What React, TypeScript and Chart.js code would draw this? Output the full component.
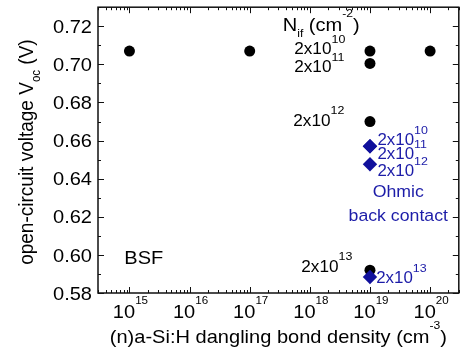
import React, { useEffect, useRef } from "react";
import { Chart, registerables } from "chart.js";
Chart.register(...registerables);

// ---- data ----
const bsfDensity = [1e15, 1e17, 1e19, 1e19, 1e19, 1e19, 1e20];
const bsfVoc = [0.707, 0.707, 0.707, 0.7005, 0.67, 0.592, 0.707];
const ohmicDensity = [1e19, 1e19, 1e19, 1e19];
const ohmicVoc = [0.657, 0.657, 0.6476, 0.5884];
const yTickValues = [0.58, 0.6, 0.62, 0.64, 0.66, 0.68, 0.7, 0.72];
const yTickLabels = ["0.58", "0.60", "0.62", "0.64", "0.66", "0.68", "0.70", "0.72"];
const xTickExponents = [15, 16, 17, 18, 19, 20];
const xMin = 3e14;
const xMax = 3e20;
const yMin = 0.58;
const yMax = 0.73;

type Part = [string, "n" | "sup" | "sub"];
type Note = { parts: Part[]; x: number; y: number; color: string; align: "left" | "center"; size: number; ssize: number };

const BLACK = "#000000";
const BLUE = "#1c1ca8";

const notes: Note[] = [
  { parts: [["N", "n"], ["if", "sub"], [" (cm", "n"], ["-2", "sup"], [")", "n"]], x: 3.54e17, y: 0.7177, color: BLACK, align: "left", size: 19, ssize: 11.5 },
  { parts: [["2x10", "n"], ["10", "sup"]], x: 5.5e17, y: 0.7052, color: BLACK, align: "left", size: 16.3, ssize: 11.8 },
  { parts: [["2x10", "n"], ["11", "sup"]], x: 5.5e17, y: 0.6958, color: BLACK, align: "left", size: 16.3, ssize: 11.8 },
  { parts: [["2x10", "n"], ["12", "sup"]], x: 5.3e17, y: 0.6677, color: BLACK, align: "left", size: 16.3, ssize: 11.8 },
  { parts: [["2x10", "n"], ["13", "sup"]], x: 7.2e17, y: 0.5910, color: BLACK, align: "left", size: 16.3, ssize: 11.8 },
  { parts: [["BSF", "n"]], x: 8.2e14, y: 0.5950, color: BLACK, align: "left", size: 19, ssize: 12 },
  { parts: [["2x10", "n"], ["10", "sup"]], x: 1.33e19, y: 0.6575, color: BLUE, align: "left", size: 16, ssize: 11.8 },
  { parts: [["2x10", "n"], ["11", "sup"]], x: 1.33e19, y: 0.6503, color: BLUE, align: "left", size: 16, ssize: 11.8 },
  { parts: [["2x10", "n"], ["12", "sup"]], x: 1.33e19, y: 0.6413, color: BLUE, align: "left", size: 16, ssize: 11.8 },
  { parts: [["Ohmic", "n"]], x: 2.95e19, y: 0.6305, color: BLUE, align: "center", size: 16.8, ssize: 11 },
  { parts: [["back contact", "n"]], x: 2.95e19, y: 0.6178, color: BLUE, align: "center", size: 16.8, ssize: 11 },
  { parts: [["2x10", "n"], ["13", "sup"]], x: 1.27e19, y: 0.5850, color: BLUE, align: "left", size: 16, ssize: 11.8 },
];

const FONT = "'Liberation Sans', Arial, sans-serif";
const SX = 1.055;

function drawRich(
  ctx: CanvasRenderingContext2D,
  parts: Part[],
  x: number,
  y: number,
  align: "left" | "center" | "right",
  color: string,
  size: number,
  ssize: number,
  sx: number,
  sy: number
) {
  ctx.save();
  ctx.translate(x, y);
  ctx.scale(sx, sy);
  let w = 0;
  for (const [t, k] of parts) {
    ctx.font = `${k === "n" ? size : ssize}px ${FONT}`;
    w += ctx.measureText(t).width;
  }
  let cx = align === "left" ? 0 : align === "center" ? -w / 2 : -w;
  ctx.fillStyle = color;
  ctx.textAlign = "left";
  ctx.textBaseline = "alphabetic";
  for (const [t, k] of parts) {
    ctx.font = `${k === "n" ? size : ssize}px ${FONT}`;
    const dy = k === "sup" ? -0.72 * size : k === "sub" ? 0.36 * size : 0;
    ctx.fillText(t, cx, dy);
    cx += ctx.measureText(t).width;
  }
  ctx.restore();
}

const framePlugin = {
  id: "frameTicks",
  beforeDatasetsDraw(chart: any) {
    const { ctx, chartArea: a, scales } = chart;
    const xs = scales.x;
    const ys = scales.y;
    ctx.save();
    ctx.strokeStyle = "#111";
    ctx.lineWidth = 1.5;
    ctx.strokeRect(a.left, a.top, a.right - a.left, a.bottom - a.top);
    ctx.lineWidth = 1;
    ctx.beginPath();
    for (let i = 0; i <= 15; i++) {
      const v = yMin + i * 0.01;
      const py = Math.round(ys.getPixelForValue(v)) + 0.5;
      const len = i % 2 === 0 ? 6 : 3;
      ctx.moveTo(a.left, py);
      ctx.lineTo(a.left + len, py);
      ctx.moveTo(a.right, py);
      ctx.lineTo(a.right - len, py);
    }
    for (let e = 14; e <= 20; e++) {
      for (let m = 1; m <= 9; m++) {
        const v = m * Math.pow(10, e);
        if (v < xMin || v > xMax) continue;
        const px = Math.round(xs.getPixelForValue(v)) + 0.5;
        const len = m === 1 ? 6 : 3;
        ctx.moveTo(px, a.bottom);
        ctx.lineTo(px, a.bottom - len);
        ctx.moveTo(px, a.top);
        ctx.lineTo(px, a.top + len);
      }
    }
    ctx.stroke();
    ctx.restore();
  },
  afterDraw(chart: any) {
    const { ctx, chartArea: a, scales } = chart;
    const xs = scales.x;
    const ys = scales.y;
    ctx.save();
    yTickValues.forEach((v, i) => {
      drawRich(ctx, [[yTickLabels[i], "n"]], a.left - 6, ys.getPixelForValue(v) + 6.7, "right", BLACK, 19, 11, SX, 1);
    });
    xTickExponents.forEach((e) => {
      const px = xs.getPixelForValue(Math.pow(10, e));
      drawRich(ctx, [["10", "n"], [String(e), "sup"]], px + 1, a.bottom + 25, "center", BLACK, 19, 11, SX, 1);
    });
    drawRich(
      ctx,
      [["(n)a-Si:H dangling bond density (cm", "n"], ["-3", "sup"], [")", "n"]],
      (a.left + a.right) / 2,
      a.bottom + 50,
      "center",
      BLACK,
      19,
      11.5,
      SX,
      1
    );
    ctx.save();
    ctx.translate(33, (a.top + a.bottom) / 2 + 2);
    ctx.rotate(-Math.PI / 2);
    drawRich(ctx, [["open-circuit voltage V", "n"], ["oc", "sub"], [" (V)", "n"]], 0, 0, "center", BLACK, 19, 11.5, 1, SX);
    ctx.restore();
    for (const n of notes) {
      drawRich(ctx, n.parts, xs.getPixelForValue(n.x), ys.getPixelForValue(n.y), n.align, n.color, n.size, n.ssize, SX, 1);
    }
    ctx.restore();
  },
};

export default function App() {
  const ref = useRef<HTMLCanvasElement | null>(null);
  useEffect(() => {
    if (!ref.current) return;
    const chart = new Chart(ref.current, {
      type: "scatter",
      data: {
        datasets: [
          {
            label: "Ohmic back contact",
            data: ohmicDensity.map((x, i) => ({ x, y: ohmicVoc[i] })),
            pointStyle: "rectRot",
            pointRadius: 7.2,
            backgroundColor: "#10109c",
            borderColor: "#10109c",
            borderWidth: 0,
          },
          {
            label: "BSF",
            data: bsfDensity.map((x, i) => ({ x, y: bsfVoc[i] })),
            pointStyle: "circle",
            pointRadius: 5.5,
            backgroundColor: "#000",
            borderColor: "#000",
            borderWidth: 0,
          },
        ],
      },
      options: {
        responsive: false,
        animation: false,
        devicePixelRatio: 1,
        layout: { padding: { left: 98, top: 7, right: 1, bottom: 58 } },
        plugins: { legend: { display: false }, tooltip: { enabled: false } },
        scales: {
          x: { type: "logarithmic", min: xMin, max: xMax, display: false },
          y: { type: "linear", min: yMin, max: yMax, display: false },
        },
      },
      plugins: [framePlugin],
    });
    return () => chart.destroy();
  }, []);
  return (
    <div style={{ position: "fixed", left: 0, top: 0, width: 466, height: 351, background: "#fff" }}>
      <canvas ref={ref} width={466} height={351} style={{ width: 466, height: 351, display: "block" }} />
    </div>
  );
}
